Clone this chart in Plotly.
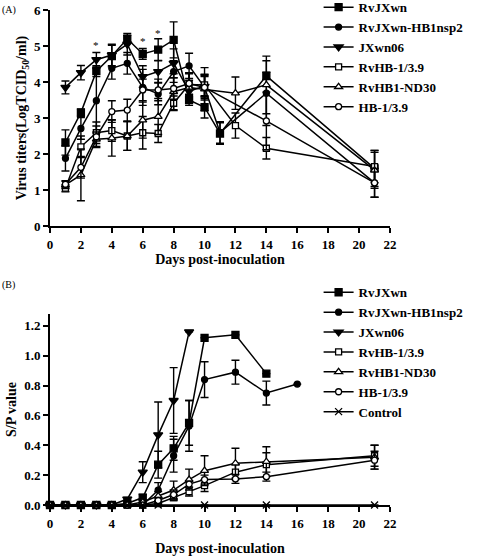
import plotly.graph_objects as go
from plotly.subplots import make_subplots

# ---------------- Panel A data (virus titers) ----------------
a_names = ["RvJXwn", "RvJXwn-HB1nsp2", "JXwn06", "RvHB-1/3.9", "RvHB1-ND30", "HB-1/3.9"]
a_days = [
    [1, 2, 3, 4, 5, 6, 7, 8, 9, 10, 11, 14, 21],
    [1, 2, 3, 4, 5, 6, 7, 8, 9, 10, 11, 14, 21],
    [1, 2, 3, 4, 5, 6, 7, 8, 9, 10],
    [1, 2, 3, 4, 5, 6, 7, 8, 9, 10, 12, 14, 21],
    [1, 2, 3, 4, 5, 6, 7, 8, 9, 10, 12, 14, 21],
    [1, 2, 3, 4, 5, 6, 7, 8, 9, 10, 14, 21],
]
a_vals = [
    [2.32, 3.15, 4.3, 4.72, 5.2, 4.78, 4.9, 5.17, 3.5, 3.3, 2.57, 4.17, 1.6],
    [1.88, 2.71, 3.48, 4.38, 4.52, 3.85, 3.67, 4.29, 4.45, 3.85, 2.6, 3.69, 1.2],
    [3.85, 4.26, 4.62, 4.75, 5.05, 4.15, 4.29, 4.52, 3.75, 3.88],
    [1.05, 2.2, 2.59, 2.65, 2.5, 2.59, 2.57, 3.41, 3.93, 3.92, 2.79, 2.16, 1.65],
    [1.14, 1.42, 2.41, 2.44, 2.5, 2.94, 3.04, 3.73, 3.85, 3.8, 3.69, 3.92, 1.55],
    [1.16, 1.63, 2.48, 3.18, 3.22, 3.78, 3.78, 3.82, 3.96, 3.85, 2.92, 1.2],
]
a_errs = [
    [0.35, 0.1, 0.15, 0.3, 0.1, 0.15, 0.3, 0.5, 0.15, 0.3, 0.3, 0.1, 0.5],
    [0.35, 0.3, 0.9, 0.3, 0.3, 0.5, 0.3, 0.3, 0.35, 0.35, 0.3, 0.9, 0.4],
    [0.18, 0.2, 0.2, 0.3, 0.3, 0.3, 0.3, 0.4, 0.3, 0.3],
    [0.1, 0.3, 0.3, 0.3, 0.4, 0.45, 0.25, 0.2, 0.3, 0.3, 0.35, 0.3, 0.45],
    [0.1, 0.72, 0.2, 0.5, 0.4, 0.5, 0.5, 0.5, 0.4, 0.6, 0.45, 0.8, 0.5],
    [0.1, 0.3, 0.3, 0.3, 0.3, 0.3, 0.3, 0.3, 0.3, 0.3, 0.8, 0.4],
]
star_days = [3, 6, 7]
star_vals = [5.03, 5.15, 5.37]

# ---------------- Panel B data (S/P values) ----------------
b_names = ["RvJXwn", "RvJXwn-HB1nsp2", "JXwn06", "RvHB-1/3.9", "RvHB1-ND30", "HB-1/3.9", "Control"]
b_days = [
    [0, 1, 2, 3, 4, 5, 6, 7, 8, 9, 10, 12, 14],
    [0, 1, 2, 3, 4, 5, 6, 7, 8, 9, 10, 12, 14, 16],
    [0, 1, 2, 3, 4, 5, 6, 7, 8, 9],
    [0, 1, 2, 3, 4, 5, 6, 7, 8, 9, 10, 12, 14, 21],
    [0, 1, 2, 3, 4, 5, 6, 7, 8, 9, 10, 12, 14, 21],
    [0, 1, 2, 3, 4, 5, 6, 7, 8, 9, 10, 12, 14, 21],
    [0, 1, 2, 3, 4, 5, 6, 7, 10, 14, 21],
]
b_vals = [
    [0, 0, 0, 0, 0, 0.01, 0.05, 0.27, 0.38, 0.55, 1.12, 1.14, 0.88],
    [0, 0, 0, 0, 0, 0, 0, 0.1, 0.33, 0.53, 0.84, 0.89, 0.75, 0.81],
    [0, 0, 0, 0, 0, 0.04, 0.22, 0.47, 0.7, 1.16],
    [0, 0, 0, 0, 0, 0, 0, 0.01, 0.05, 0.09, 0.13, 0.22, 0.27, 0.33],
    [0, 0, 0, 0, 0, 0, 0.02, 0.06, 0.1, 0.17, 0.23, 0.28, 0.29, 0.32],
    [0, 0, 0, 0, 0, 0, 0, 0.03, 0.07, 0.14, 0.17, 0.175, 0.19, 0.3],
    [0, 0, 0, 0, 0, 0, 0, 0, 0, 0, 0],
]
b_errs = [
    [0, 0, 0, 0, 0, 0, 0.02, 0.09, 0.08, 0.15, 0, 0, 0],
    [0, 0, 0, 0, 0, 0, 0, 0.05, 0.11, 0.17, 0.12, 0.08, 0.08, 0],
    [0, 0, 0, 0, 0, 0.01, 0.07, 0.22, 0.22, 0],
    [0, 0, 0, 0, 0, 0, 0, 0.01, 0.02, 0.03, 0.04, 0.05, 0.08, 0.07],
    [0, 0, 0, 0, 0, 0, 0.01, 0.03, 0.06, 0.07, 0.1, 0.1, 0.1, 0.08],
    [0, 0, 0, 0, 0, 0, 0, 0.02, 0.03, 0.02, 0.03, 0.03, 0.03, 0.06],
    [0, 0, 0, 0, 0, 0, 0, 0, 0, 0, 0],
]

x_ticks = list(range(0, 23, 2))

# ---------------- styles ----------------
FONT = "Liberation Serif"
styles = [
    dict(symbol="square", size=7, color="black"),
    dict(symbol="circle", size=6, color="black"),
    dict(symbol="triangle-down", size=8, color="black"),
    dict(symbol="square", size=6, color="white"),
    dict(symbol="triangle-up", size=7, color="white"),
    dict(symbol="circle", size=6, color="white"),
    dict(symbol="x-thin", size=7, color="black"),
]

fig = make_subplots(rows=2, cols=1, vertical_spacing=0.0)


def add_series(name, xs, ys, es, st, row, legend):
    fig.add_trace(
        go.Scatter(
            x=xs, y=ys, name=name, mode="lines+markers",
            line=dict(color="black", width=1.5),
            marker=dict(symbol=st["symbol"], size=st["size"], color=st["color"],
                        line=dict(color="black", width=1.3)),
            error_y=dict(type="data", array=es, color="black", thickness=1.4, width=4),
            cliponaxis=False, legend=legend,
        ),
        row=row, col=1,
    )


for i, n in enumerate(a_names):
    add_series(n, a_days[i], a_vals[i], a_errs[i], styles[i], 1, "legend")
for i, n in enumerate(b_names):
    add_series(n, b_days[i], b_vals[i], b_errs[i], styles[i], 2, "legend2")

BOLD = dict(family=FONT, color="black", weight="bold")
axis_common = dict(
    showline=True, linecolor="black", linewidth=2, ticks="outside", ticklen=5,
    tickwidth=2, tickcolor="black", showgrid=False, zeroline=False,
    tickfont=dict(size=13, **BOLD),
)

fig.update_xaxes(range=[0, 22], tickvals=x_ticks, **axis_common)
fig.update_xaxes(title=dict(text="Days post-inoculation", font=dict(size=14, **BOLD), standoff=4),
                 row=1, col=1)
fig.update_xaxes(title=dict(text="Days post-inoculation", font=dict(size=14, **BOLD), standoff=14),
                 row=2, col=1)

fig.update_yaxes(range=[0, 6], tickvals=[0, 1, 2, 3, 4, 5, 6], domain=[0.5636, 1.0],
                 title=dict(text="Virus titers(LogTCID<sub>50</sub>/ml)",
                            font=dict(size=14, **BOLD), standoff=4),
                 row=1, col=1, **axis_common)
fig.update_yaxes(range=[0, 1.28], tickvals=[0, 0.2, 0.4, 0.6, 0.8, 1.0, 1.2], tickformat=".1f",
                 domain=[0.0, 0.386],
                 title=dict(text="S/P value", font=dict(size=14, **BOLD), standoff=4),
                 row=2, col=1, **axis_common)

legend_common = dict(
    bgcolor="rgba(0,0,0,0)", borderwidth=0, itemwidth=30, xanchor="left", yanchor="top",
    font=dict(size=13, **BOLD), tracegroupgap=0,
)

annotations = [
    dict(text="(A)", x=0, y=1, xref="paper", yref="paper", xshift=-50, yshift=8,
         xanchor="left", yanchor="top", showarrow=False, font=dict(family=FONT, size=10, color="black")),
    dict(text="(B)", x=0, y=0.46, xref="paper", yref="paper", xshift=-50,
         xanchor="left", yanchor="top", showarrow=False, font=dict(family=FONT, size=10, color="black")),
]
for d, v in zip(star_days, star_vals):
    annotations.append(dict(text="*", x=d, y=v, xref="x", yref="y", showarrow=False,
                            font=dict(family=FONT, size=11, color="black")))

fig.update_layout(
    width=480, height=557,
    margin=dict(l=50, r=90, t=10, b=52, autoexpand=False),
    paper_bgcolor="white", plot_bgcolor="white",
    font=dict(family=FONT, color="black"),
    legend=dict(x=0.79, y=1.036, **legend_common),
    legend2=dict(x=0.79, y=0.46, **legend_common),
    annotations=annotations,
)

fig.write_html("out.html", config={"displayModeBar": False},
               post_script="document.body.style.margin='0px';")
